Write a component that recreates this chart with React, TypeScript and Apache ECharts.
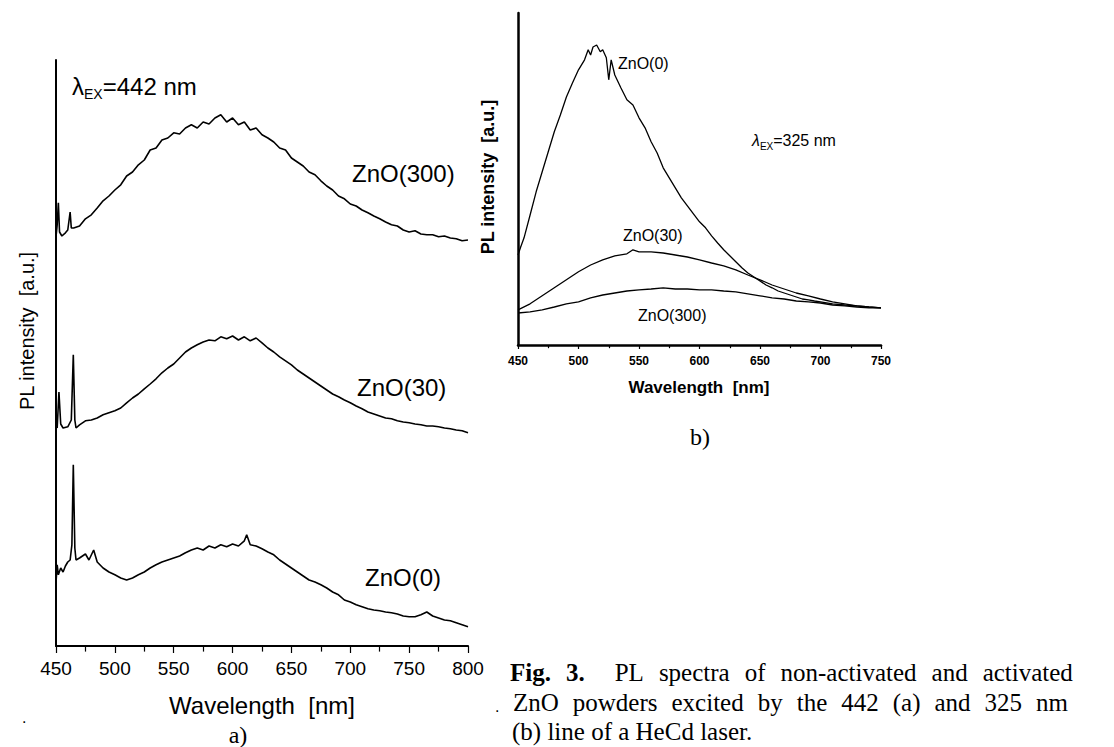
import React, { useEffect, useRef } from "react";
import * as echarts from "echarts";

// ---------- panel a) lambda_EX = 442 nm (wavelength nm, intensity a.u.) ----------
const aZnO300: [number, number][] = [
  [450, 102.3], [451, 105.3], [452, 110.8], [453, 103.5], [455, 102.5], [458, 103.3], [460, 104], [462, 108.5],
  [463, 104.5], [465, 104.5], [470, 105], [475, 106.8], [480, 107.8], [485, 109.5], [490, 111.3], [495, 112.5],
  [500, 114], [505, 115.3], [510, 117.5], [515, 118.5], [520, 120.3], [525, 121.5], [530, 124], [535, 124.5],
  [540, 126.5], [545, 127], [550, 128.3], [555, 128], [560, 129.5], [565, 130.3], [570, 129.5], [575, 131],
  [580, 130.5], [585, 132], [590, 132.8], [595, 131], [600, 132], [605, 130.3], [610, 131], [615, 129],
  [620, 129.5], [625, 127.8], [630, 127], [635, 126], [640, 124.5], [645, 124], [650, 122], [655, 121],
  [660, 120], [665, 118.5], [670, 117.8], [675, 116.3], [680, 115], [685, 114], [690, 112.5], [695, 111.8],
  [700, 110.5], [705, 110], [710, 109], [715, 108.3], [720, 107.5], [725, 106.8], [730, 106], [735, 105.3],
  [740, 105], [745, 104], [750, 103.5], [755, 103.8], [760, 103], [765, 102.8], [770, 102.8], [775, 102.3],
  [780, 102.5], [785, 102], [790, 101.8], [795, 101.3], [800, 101.5],
];

const aZnO30: [number, number][] = [
  [450, 55.8], [451, 54.5], [452.5, 63.5], [454, 55.5], [456, 54.5], [460, 54.8], [463, 56.5], [464.7, 72.8],
  [466, 56.5], [467, 54.5], [470, 55.3], [475, 56.3], [480, 56.5], [485, 57], [490, 57.8], [495, 58.3],
  [500, 58.8], [505, 59.5], [510, 60.8], [515, 62], [520, 63], [525, 64.3], [530, 65.5], [535, 66.8],
  [540, 68.3], [545, 69.5], [550, 70.5], [555, 72], [560, 73.5], [565, 74.5], [570, 75.3], [575, 76],
  [580, 76.5], [585, 76.3], [590, 77.3], [595, 76.8], [600, 77.5], [605, 76.5], [610, 77.3], [615, 76.3],
  [620, 77], [625, 75.8], [630, 74.5], [635, 73.5], [640, 72.3], [645, 71.3], [650, 70.3], [655, 69],
  [660, 68], [665, 67], [670, 66], [675, 65], [680, 64], [685, 63], [690, 62.3], [695, 61.5],
  [700, 60.8], [705, 60], [710, 59.3], [715, 58.5], [720, 58], [725, 57.5], [730, 57], [735, 56.8],
  [740, 56.3], [745, 56], [750, 55.8], [755, 55.5], [760, 55.3], [765, 55], [770, 55], [775, 54.8],
  [780, 54.5], [785, 54.3], [790, 54], [795, 53.8], [800, 53.3],
];

const aZnO0: [number, number][] = [
  [450, 15.8], [451, 20.3], [452, 17.8], [454, 19.5], [456, 18.5], [458, 20], [460, 21], [462, 21.5],
  [463.5, 25.3], [464.7, 45.3], [466, 24.5], [467, 21.5], [470, 22], [475, 23], [478, 21.5], [482, 24],
  [485, 21], [490, 19.5], [495, 18.5], [500, 17.8], [505, 17], [510, 16.5], [515, 17], [520, 17.8],
  [525, 18.5], [530, 19.5], [535, 20.3], [540, 21], [545, 21.5], [550, 22], [555, 22.5], [560, 23.3],
  [565, 24], [570, 24.5], [575, 24], [580, 25], [585, 24.5], [590, 25.3], [595, 24.8], [600, 25.5],
  [605, 25], [610, 26.3], [612, 27.8], [615, 25.3], [620, 25], [625, 24.3], [630, 23.5], [635, 22.8],
  [640, 21.5], [645, 20.5], [650, 19.5], [655, 18.5], [660, 17.5], [665, 16.5], [670, 16], [675, 15.3],
  [680, 14.5], [685, 13.5], [690, 12.8], [695, 11.5], [700, 11], [705, 10.3], [710, 9.8], [715, 9.3],
  [720, 9], [725, 8.8], [730, 8.5], [735, 8.3], [740, 8], [745, 7.5], [750, 7.3], [755, 7.3],
  [760, 7.8], [765, 8.5], [770, 7.5], [775, 7], [780, 6.5], [785, 6.3], [790, 5.8], [795, 5.3], [800, 4.8],
];

// ---------- panel b) lambda_EX = 325 nm ----------
const bZnO0: [number, number][] = [
  [450, 22.5], [452, 24.3], [455, 26.8], [460, 32.5], [465, 38.3], [470, 43.3], [475, 48.3], [480, 53.3],
  [485, 57.5], [490, 62], [495, 65.5], [500, 68.8], [505, 71.3], [508, 73.8], [510, 72.5], [512, 74.5],
  [515, 75], [518, 73.3], [520, 73.8], [523, 71.8], [525, 66.3], [527, 71.3], [530, 67.5], [535, 64.3],
  [540, 61.3], [545, 60], [550, 56.8], [555, 54.3], [560, 50.8], [565, 48], [570, 44.3], [575, 41.8],
  [580, 39.3], [585, 36.8], [590, 34.8], [595, 32.8], [600, 30.8], [605, 29.3], [610, 27.3], [615, 25.5],
  [620, 23.8], [625, 22.3], [630, 20.8], [635, 19.3], [640, 18], [645, 17], [650, 16], [655, 15],
  [660, 14.3], [665, 13.5], [670, 13], [675, 12.5], [680, 12], [685, 11.5], [690, 11.3], [695, 11],
  [700, 10.8], [710, 10.3], [720, 10], [730, 9.8], [740, 9.5], [750, 9.3],
];

const bZnO30: [number, number][] = [
  [450, 8.8], [460, 10.3], [470, 12.3], [480, 14.3], [490, 16.3], [500, 18.3], [510, 20], [520, 21.3],
  [530, 22.3], [540, 22.8], [545, 23.8], [550, 23.3], [560, 23.3], [570, 23], [580, 22.5], [590, 22],
  [600, 21.3], [610, 20.5], [620, 19.8], [630, 18.8], [640, 17.5], [650, 16.3], [660, 15], [670, 14],
  [680, 13], [690, 12.3], [700, 11.5], [710, 10.8], [720, 10.3], [730, 9.8], [740, 9.5], [750, 9.3],
];

const bZnO300: [number, number][] = [
  [450, 8], [460, 8.3], [470, 8.8], [480, 9.5], [490, 10.3], [500, 10.8], [510, 11.8], [520, 12.5],
  [530, 13], [540, 13.5], [550, 13.8], [560, 14], [570, 14.3], [580, 14], [590, 14], [600, 13.8],
  [610, 13.8], [620, 13.5], [630, 13.3], [640, 12.8], [650, 12.3], [660, 11.8], [670, 11.5], [680, 11],
  [690, 10.8], [700, 10.5], [710, 10], [720, 9.8], [730, 9.5], [740, 9.3], [750, 9.3],
];

const axisA = { min: 450, max: 800, interval: 50, yMax: 146.5 };
const axisB = { min: 450, max: 750, interval: 50, yMax: 83 };

const SANS = "'Liberation Sans', Arial, sans-serif";
const SERIF = "'Liberation Serif', 'Times New Roman', serif";

const captionLines = [
  ["{b|Fig.}", "{b|3.}", "", "PL", "spectra", "of", "non-activated", "and", "activated"],
  ["ZnO", "powders", "excited", "by", "the", "442", "(a)", "and", "325", "nm"],
  ["(b)", "line", "of", "a", "HeCd", "laser."],
];

function lineSeries(data: [number, number][], idx: number, width: number) {
  return {
    type: "line",
    xAxisIndex: idx,
    yAxisIndex: idx,
    data,
    symbol: "none",
    showSymbol: false,
    lineStyle: { color: "#000", width },
    silent: true,
  };
}

function txt(x: number, y: number, text: string, size: number, opts: any = {}) {
  return {
    type: "text",
    x,
    y,
    rotation: opts.rotation || 0,
    style: {
      text,
      fill: "#000",
      fontSize: size,
      fontFamily: opts.family || SANS,
      fontWeight: opts.weight || "normal",
      align: opts.align || "left",
      verticalAlign: "middle",
      lineHeight: opts.lineHeight,
      rich: opts.rich,
    },
  };
}

export default function App() {
  const ref = useRef<HTMLDivElement>(null);
  useEffect(() => {
    document.body.style.margin = "0";
    if (!ref.current) return;
    const chart = echarts.init(ref.current, null, { renderer: "svg" });

    const capFont = 25;
    const capSpacing = [15, 14, 0];
    const capY = [672, 702, 731];
    const capX = [510, 513, 512];

    const graphic: any[] = [
      // panel a texts
      txt(72, 86, "{l|λ}{s|EX}{n|=442 nm}", 24, {
        rich: {
          l: { fontSize: 24, fontFamily: SANS, lineHeight: 30 },
          s: { fontSize: 14, fontFamily: SANS, lineHeight: 9, verticalAlign: "bottom" },
          n: { fontSize: 24, fontFamily: SANS, lineHeight: 30 },
        },
      }),
      txt(352, 173, "ZnO(300)", 24),
      txt(357, 387, "ZnO(30)", 24),
      txt(365, 577, "ZnO(0)", 24),
      txt(27, 331, "PL intensity  [a.u.]", 20, { align: "center", rotation: Math.PI / 2 }),
      txt(262, 705, "Wavelength  [nm]", 24, { align: "center" }),
      txt(238, 735, "a)", 24, { align: "center", family: SERIF }),
      txt(22, 717, ".", 16),
      // panel b texts
      txt(618, 63, "ZnO(0)", 16),
      txt(623, 235, "ZnO(30)", 16),
      txt(638, 315, "ZnO(300)", 16),
      txt(752, 140, "{l|λ}{s|EX}{n|=325 nm}", 16, {
        rich: {
          l: { fontSize: 16, fontFamily: SANS, fontStyle: "italic", lineHeight: 22 },
          s: { fontSize: 10, fontFamily: SANS, lineHeight: 6, verticalAlign: "bottom" },
          n: { fontSize: 16, fontFamily: SANS, lineHeight: 22 },
        },
      }),
      txt(488, 177, "PL intensity  [a.u.]", 18, { align: "center", rotation: Math.PI / 2, weight: "bold" }),
      txt(699, 387, "Wavelength  [nm]", 17, { align: "center", weight: "bold" }),
      txt(700, 437, "b)", 24, { align: "center", family: SERIF }),
      txt(495, 706, ".", 16),
    ];

    captionLines.forEach((words, i) => {
      const sep = capSpacing[i] > 0 ? "{sp| }" : " ";
      graphic.push(
        txt(capX[i], capY[i], words.join(sep), capFont, {
          family: SERIF,
          lineHeight: 26,
          rich: {
            b: { fontWeight: "bold", fontSize: capFont, fontFamily: SERIF, lineHeight: 26 },
            sp: { width: capSpacing[i], fontSize: capFont, fontFamily: SERIF, lineHeight: 26 },
          },
        })
      );
    });

    const xAxisCommon = (a: any, fs: number, bold: boolean, lw: number, tl: number, margin: number) => ({
      type: "value",
      min: a.min,
      max: a.max,
      interval: a.interval,
      axisLine: { show: true, onZero: false, lineStyle: { color: "#000", width: lw } },
      axisTick: { show: true, inside: false, length: tl, lineStyle: { color: "#000", width: 1.2 } },
      minorTick: { show: true, splitNumber: 2, length: tl * 0.8, lineStyle: { color: "#000", width: 1.2 } },
      axisLabel: {
        show: true,
        margin,
        color: "#000",
        fontSize: fs,
        fontFamily: SANS,
        fontWeight: bold ? "bold" : "normal",
      },
      splitLine: { show: false },
      minorSplitLine: { show: false },
    });

    const yAxisCommon = (max: number, lw: number) => ({
      type: "value",
      min: 0,
      max,
      axisLine: { show: true, onZero: false, lineStyle: { color: "#000", width: lw } },
      axisTick: { show: false },
      axisLabel: { show: false },
      splitLine: { show: false },
    });

    chart.setOption({
      animation: false,
      backgroundColor: "#fff",
      grid: [
        { left: 56, top: 60, width: 412, height: 586, containLabel: false, outerBoundsMode: "none" },
        { left: 518, top: 13, width: 363, height: 332, containLabel: false, outerBoundsMode: "none" },
      ],
      xAxis: [
        { gridIndex: 0, ...xAxisCommon(axisA, 19, false, 2, 7, 13) },
        { gridIndex: 1, ...xAxisCommon(axisB, 12, true, 2.5, 4, 10) },
      ],
      yAxis: [
        { gridIndex: 0, ...yAxisCommon(axisA.yMax, 2) },
        { gridIndex: 1, ...yAxisCommon(axisB.yMax, 2.5) },
      ],
      series: [
        lineSeries(aZnO300, 0, 1.6),
        lineSeries(aZnO30, 0, 1.6),
        lineSeries(aZnO0, 0, 1.6),
        lineSeries(bZnO0, 1, 1.3),
        lineSeries(bZnO30, 1, 1.3),
        lineSeries(bZnO300, 1, 1.3),
      ],
      graphic,
    });
    return () => chart.dispose();
  }, []);
  return <div ref={ref} style={{ width: 1114, height: 747 }} />;
}
